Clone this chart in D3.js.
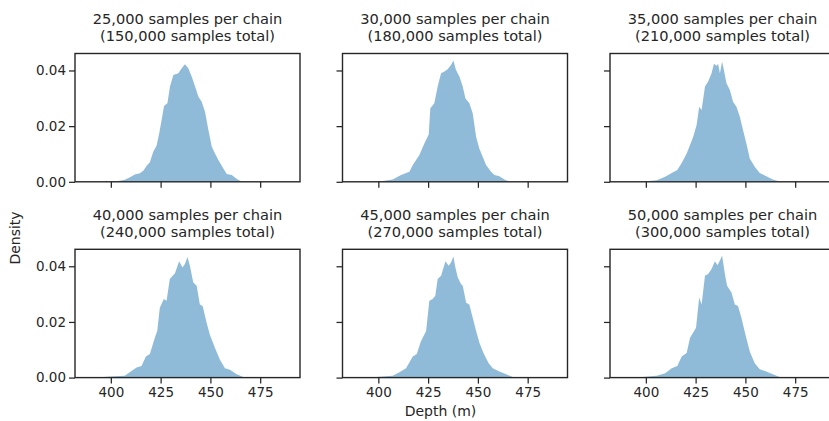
<!DOCTYPE html>
<html>
<head>
<meta charset="utf-8">
<script src="https://cdn.jsdelivr.net/npm/d3@7"></script>
<style>
  body { margin: 0; background: #fff; }
  svg { display: block; }
  text { font-family: "DejaVu Sans", sans-serif; fill: #262626; }
</style>
</head>
<body>
<svg id="chart" width="829" height="421"></svg>
<script>
// Posterior depth density for increasing chain lengths (6 chains each)
const samplesPerChain = ["25,000", "30,000", "35,000", "40,000", "45,000", "50,000"];
const samplesTotal = ["150,000", "180,000", "210,000", "240,000", "270,000", "300,000"];
const depthTicks = [400, 425, 450, 475];
const densityTicks = [0.00, 0.02, 0.04];

// [depth (m), density] polygon vertices for each run
const run25k = [
  [396.1,0.0000],[397.8,0.0004],[399.5,0.0001],[403.7,0.0003],[407.0,0.0007],[409.6,0.0016],
  [412.1,0.0026],[414.6,0.0031],[416.3,0.0040],[418.0,0.0058],[419.6,0.0070],[421.3,0.0108],
  [423.0,0.0130],[424.3,0.0174],[425.5,0.0222],[426.7,0.0272],[428.4,0.0282],[429.7,0.0342],
  [431.4,0.0384],[433.9,0.0390],[435.6,0.0408],[437.2,0.0422],[438.9,0.0408],[440.6,0.0378],
  [442.3,0.0342],[444.0,0.0306],[445.6,0.0288],[447.3,0.0252],[449.0,0.0186],[450.7,0.0126],
  [452.3,0.0102],[454.0,0.0078],[456.5,0.0048],[458.2,0.0028],[460.7,0.0024],[463.3,0.0010],
  [465.8,0.0000]
];
const run30k = [
  [395.5,0.0000],[400.5,0.0001],[407.2,0.0008],[411.4,0.0024],[415.6,0.0036],[417.3,0.0060],
  [420.6,0.0096],[423.1,0.0138],[425.3,0.0170],[426.1,0.0264],[428.1,0.0282],[429.8,0.0342],
  [431.5,0.0390],[433.2,0.0396],[434.8,0.0404],[436.5,0.0420],[437.7,0.0436],[439.0,0.0402],
  [440.7,0.0378],[442.4,0.0342],[443.7,0.0300],[445.7,0.0282],[447.4,0.0246],[449.1,0.0162],
  [450.7,0.0120],[452.4,0.0090],[454.1,0.0060],[456.6,0.0036],[458.3,0.0024],[460.8,0.0020],
  [463.3,0.0008],[465.8,0.0001],[467.0,0.0000]
];
const run35k = [
  [397.2,0.0000],[405.5,0.0006],[409.7,0.0018],[413.0,0.0032],[415.8,0.0042],[418.0,0.0068],
  [420.5,0.0102],[422.2,0.0132],[423.8,0.0162],[425.5,0.0204],[426.8,0.0270],[428.0,0.0258],
  [429.7,0.0342],[431.3,0.0360],[433.0,0.0390],[434.2,0.0424],[435.5,0.0417],[436.3,0.0423],
  [437.2,0.0390],[438.3,0.0432],[439.2,0.0402],[440.5,0.0354],[442.2,0.0330],[443.8,0.0288],
  [445.5,0.0270],[447.2,0.0234],[448.8,0.0186],[450.5,0.0138],[452.2,0.0084],[454.7,0.0054],
  [457.2,0.0032],[460.5,0.0020],[463.8,0.0008],[467.2,0.0001],[468.5,0.0000]
];
const run40k = [
  [392.8,0.0000],[399.5,0.0004],[407.0,0.0007],[409.5,0.0019],[412.9,0.0036],[415.4,0.0042],
  [417.6,0.0076],[419.6,0.0085],[422.1,0.0143],[423.3,0.0167],[424.6,0.0251],[426.6,0.0282],
  [428.0,0.0276],[429.6,0.0354],[432.2,0.0375],[434.3,0.0418],[436.0,0.0396],[437.2,0.0408],
  [438.5,0.0433],[439.7,0.0402],[441.4,0.0342],[443.1,0.0330],[444.7,0.0263],[446.1,0.0257],
  [448.1,0.0197],[449.7,0.0155],[452.3,0.0106],[454.8,0.0064],[457.3,0.0034],[459.8,0.0028],
  [463.2,0.0012],[466.5,0.0002],[468.0,0.0000]
];
const run45k = [
  [395.5,0.0000],[407.2,0.0007],[410.6,0.0019],[413.9,0.0034],[417.3,0.0076],[419.3,0.0085],
  [421.4,0.0131],[424.0,0.0167],[425.6,0.0276],[427.3,0.0282],[428.6,0.0294],[429.8,0.0354],
  [431.5,0.0366],[433.7,0.0418],[435.3,0.0402],[436.5,0.0414],[437.7,0.0435],[438.7,0.0396],
  [439.9,0.0360],[441.5,0.0336],[442.4,0.0330],[444.1,0.0269],[445.7,0.0263],[447.4,0.0215],
  [449.1,0.0167],[450.8,0.0124],[452.8,0.0088],[455.4,0.0052],[457.5,0.0034],[460.8,0.0022],
  [464.2,0.0012],[467.5,0.0002],[469.0,0.0000]
];
const run50k = [
  [395.5,0.0000],[405.5,0.0007],[409.7,0.0016],[413.0,0.0034],[415.8,0.0042],[418.0,0.0076],
  [420.5,0.0088],[422.2,0.0143],[425.2,0.0179],[426.8,0.0288],[428.0,0.0263],[429.7,0.0366],
  [431.3,0.0372],[433.0,0.0390],[434.7,0.0418],[436.0,0.0404],[437.2,0.0421],[438.3,0.0439],
  [439.7,0.0372],[440.8,0.0330],[443.0,0.0306],[444.7,0.0263],[446.3,0.0257],[448.0,0.0215],
  [450.0,0.0155],[452.2,0.0094],[454.7,0.0052],[457.2,0.0030],[460.5,0.0022],[463.8,0.0012],
  [467.2,0.0002],[469.0,0.0000]
];
const runs = [run25k, run30k, run35k, run40k, run45k, run50k];

const svg = d3.select("#chart");
const ink = "#262626";
const colLeft = [75, 342.5, 610];
const rowTop = [53.5, 249.3];
const panelW = 225, panelH = 128.3;

runs.forEach((run, i) => {
  const row = Math.floor(i / 3), col = i % 3;
  const left = colLeft[col], top = rowTop[row];
  const x = d3.scaleLinear().domain([382, 495]).range([left, left + panelW]);
  const y = d3.scaleLinear().domain([0, 0.0461]).range([top + panelH, top]);

  const clipId = "clip" + i;
  svg.append("clipPath").attr("id", clipId)
    .append("rect").attr("x", left).attr("y", top).attr("width", panelW).attr("height", panelH);

  const area = d3.area()
    .x(d => x(d[0]))
    .y0(y(0))
    .y1(d => y(d[1]));

  svg.append("path")
    .datum(run)
    .attr("clip-path", `url(#${clipId})`)
    .attr("d", area)
    .attr("fill", "#1f77b4")
    .attr("fill-opacity", 0.5)
    .attr("stroke", "none");

  const xAxis = d3.axisBottom(x).tickValues(depthTicks).tickSize(6).tickPadding(4)
    .tickFormat(row === 1 ? d3.format("d") : () => "");
  const gx = svg.append("g").attr("transform", `translate(0,${top + panelH})`).call(xAxis);

  const yAxis = d3.axisLeft(y).tickValues(densityTicks).tickSize(6).tickPadding(3)
    .tickFormat(col === 0 ? d3.format(".2f") : () => "");
  const gy = svg.append("g").attr("transform", `translate(${left},0)`).call(yAxis);

  [gx, gy].forEach(g => {
    g.select(".domain").remove();
    g.selectAll(".tick line").attr("stroke", ink).attr("stroke-width", 1.25);
    g.selectAll(".tick text").attr("fill", ink)
      .style("font-family", '"DejaVu Sans", sans-serif').style("font-size", "13.5px");
  });

  svg.append("rect")
    .attr("x", left).attr("y", top).attr("width", panelW).attr("height", panelH)
    .attr("fill", "none").attr("stroke", ink).attr("stroke-width", 1.4);

  const title = svg.append("text")
    .attr("text-anchor", "middle")
    .style("font-size", "14.6px");
  title.append("tspan").attr("x", left + panelW / 2).attr("y", top - 29.5)
    .text(`${samplesPerChain[i]} samples per chain`);
  title.append("tspan").attr("x", left + panelW / 2).attr("y", top - 12.8)
    .text(`(${samplesTotal[i]} samples total)`);
});

svg.append("text")
  .attr("x", 440.5).attr("y", 416)
  .attr("text-anchor", "middle")
  .style("font-size", "14px")
  .text("Depth (m)");

svg.append("text")
  .attr("transform", "translate(20,238) rotate(-90)")
  .attr("text-anchor", "middle")
  .style("font-size", "14px")
  .text("Density");
</script>
</body>
</html>
